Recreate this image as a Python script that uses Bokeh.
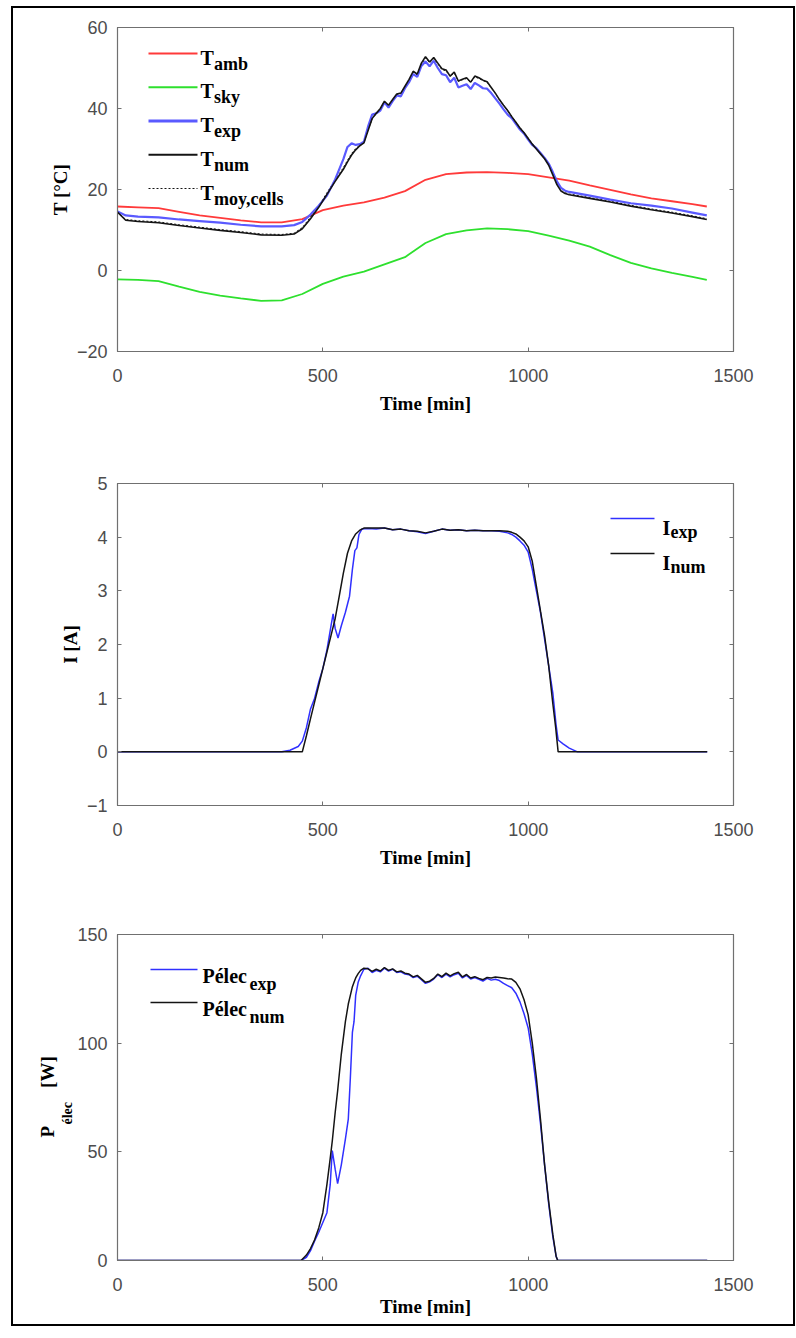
from bokeh.plotting import figure
from bokeh.layouts import column
from bokeh.models import FixedTicker, LinearAxis, Range1d, Label, Arrow, Title
from bokeh.embed import file_html
from bokeh.resources import INLINE

# ---------------- data ----------------
# Temperatures
t_amb = [0, 50, 100, 150, 200, 250, 300, 350, 400, 450, 500, 550, 600, 650, 700, 750,
         800, 850, 900, 950, 1000, 1050, 1100, 1150, 1200, 1250, 1300, 1350, 1400, 1435]
T_amb = [15.8, 15.6, 15.4, 14.5, 13.6, 13.0, 12.4, 11.9, 11.9, 12.7, 14.9, 16.0, 16.8, 18.0, 19.6, 22.4,
         23.8, 24.2, 24.3, 24.1, 23.8, 23.0, 22.2, 21.0, 19.9, 18.8, 17.8, 17.1, 16.4, 15.8]
T_sky = [-2.2, -2.3, -2.6, -4.0, -5.3, -6.2, -6.9, -7.5, -7.4, -5.8, -3.3, -1.5, -0.3, 1.5, 3.3, 6.8,
         9.0, 9.9, 10.4, 10.2, 9.7, 8.6, 7.4, 5.9, 3.8, 1.9, 0.5, -0.6, -1.6, -2.3]

t_T = [0, 20, 50, 100, 150, 200, 250, 300, 350, 400, 430, 450, 470, 490, 510, 530, 550,
       560, 570, 580, 590, 600, 610, 620, 630, 640, 650, 660, 670, 680, 690, 700, 710, 720, 730, 740,
       750, 760, 770, 780, 790, 800, 810, 820, 830, 840, 850, 860, 870, 880, 890, 900, 910, 920, 930,
       940, 950, 960, 970, 980, 990, 1000, 1010, 1020, 1030, 1040, 1050, 1060, 1070, 1080, 1090, 1100,
       1150, 1200, 1250, 1300, 1350, 1400, 1435]
T_exp = [14.6, 13.6, 13.3, 13.1, 12.6, 12.2, 11.8, 11.3, 10.9, 10.9, 11.2, 12.0, 13.8, 16.0, 18.5, 22.5, 27.5,
         30.5, 31.4, 31.0, 31.2, 31.8, 35.5, 38.5, 38.8, 39.5, 41.5, 40.2, 41.8, 43.2, 43.0, 45.0, 46.5, 48.5, 47.8, 50.5,
         51.6, 50.4, 51.8, 50.0, 48.5, 48.2, 46.5, 47.6, 45.2, 45.6, 46.0, 44.8, 46.3, 45.7, 45.0, 44.9, 43.8, 42.5, 41.2,
         39.8, 38.5, 37.6, 36.2, 34.8, 33.8, 32.3, 31.0, 30.2, 29.0, 27.8, 26.4, 24.3, 22.0, 20.4, 19.7, 19.4,
         18.5, 17.5, 16.6, 16.0, 15.3, 14.3, 13.6]
T_num = [14.4, 12.4, 12.1, 11.8, 11.1, 10.5, 9.9, 9.4, 8.8, 8.7, 9.0, 10.3, 12.8, 15.6, 18.8, 22.0, 25.0,
         26.8, 28.5, 29.8, 30.8, 31.5, 34.5, 37.5, 38.8, 40.0, 41.8, 40.8, 42.2, 43.6, 43.8, 45.5, 47.2, 49.2, 48.5, 51.2,
         52.8, 51.5, 52.6, 51.2, 49.8, 49.5, 48.0, 49.0, 46.8, 47.2, 47.6, 46.5, 48.0, 47.6, 47.0, 46.6, 45.2, 43.8, 42.2,
         40.8, 39.5, 38.0, 36.6, 35.2, 34.0, 32.6, 31.2, 30.0, 28.8, 27.6, 26.0, 23.6, 21.2, 19.6, 19.0, 18.7,
         17.8, 16.9, 15.9, 15.0, 14.2, 13.3, 12.6]
T_moy_cells = [14.5, 12.6, 12.3, 12.0, 11.3, 10.7, 10.1, 9.6, 9.0, 8.9, 9.2, 10.6, 13.2, 16.0, 19.2, 22.4, 25.4,
               27.2, 28.9, 30.1, 31.0, 31.8, 34.6, 37.4, 38.7, 39.9, 41.6, 40.8, 42.1, 43.4, 43.7, 45.3, 47.0, 48.9, 48.3, 50.9,
               52.5, 51.3, 52.3, 51.0, 49.6, 49.3, 47.9, 48.8, 46.7, 47.1, 47.4, 46.4, 47.8, 47.4, 46.9, 46.5, 45.1, 43.7, 42.2,
               40.8, 39.5, 38.1, 36.7, 35.3, 34.1, 32.7, 31.3, 30.1, 28.9, 27.7, 26.1, 23.8, 21.4, 19.8, 19.2, 18.9,
               18.0, 17.1, 16.1, 15.2, 14.4, 13.5, 12.8]

# Current
t_Iexp = [0, 400, 420, 440, 450, 460, 470, 480, 490, 500, 510, 520, 525, 530, 537, 545, 555, 565, 572, 578,
          583, 588, 595, 610, 630, 650, 670, 690, 710, 730, 750, 770, 790, 810, 830, 850, 870, 890, 910, 930,
          950, 960, 970, 980, 990, 1000, 1010, 1020, 1030, 1040, 1050, 1060, 1068, 1073, 1085, 1100, 1120, 1436]
I_exp = [0, 0, 0.03, 0.1, 0.2, 0.45, 0.8, 1.0, 1.3, 1.55, 1.9, 2.35, 2.57, 2.3, 2.12, 2.35, 2.6, 2.9, 3.4, 3.75,
         3.8, 4.05, 4.15, 4.16, 4.15, 4.17, 4.14, 4.15, 4.12, 4.10, 4.07, 4.11, 4.15, 4.13, 4.14, 4.12, 4.13, 4.12, 4.12, 4.11,
         4.08, 4.05, 4.0, 3.93, 3.85, 3.72, 3.4, 3.0, 2.6, 2.1, 1.6, 1.1, 0.5, 0.22, 0.15, 0.07, 0.0, 0.0]
t_Inum = [0, 450, 460, 470, 480, 490, 500, 510, 520, 530, 540, 550, 560, 570, 580, 590, 600, 620, 650, 670,
          690, 710, 730, 750, 770, 790, 810, 830, 850, 870, 890, 910, 930, 950, 960, 970, 980, 990, 1000, 1010,
          1020, 1030, 1040, 1050, 1060, 1067, 1073, 1436]
I_num = [0, 0, 0.3, 0.62, 0.93, 1.24, 1.55, 1.86, 2.17, 2.48, 2.9, 3.33, 3.7, 3.93, 4.06, 4.13, 4.17, 4.17, 4.17, 4.14,
         4.15, 4.12, 4.11, 4.08, 4.11, 4.15, 4.13, 4.14, 4.12, 4.13, 4.12, 4.12, 4.12, 4.11, 4.09, 4.06, 4.0, 3.93, 3.82, 3.55,
         3.09, 2.62, 2.16, 1.6, 0.9, 0.45, 0.0, 0.0]

# Electrical power
t_P = [0, 447, 460, 470, 480, 490, 500, 510, 518, 523, 530, 536, 545, 555, 562, 567, 572, 576, 580, 586,
       592, 600, 610, 620, 630, 640, 650, 660, 670, 680, 690, 700, 710, 720, 730, 740, 750, 760, 770, 780,
       790, 800, 810, 820, 830, 840, 850, 860, 870, 880, 890, 900, 910, 920, 930, 940, 950, 960, 970, 980,
       990, 1000, 1010, 1020, 1030, 1040, 1050, 1060, 1068, 1072, 1436]
P_exp = [0, 0, 1.5, 4.5, 9, 13, 17.5, 22, 35, 50.6, 42, 35.4, 44, 56, 65, 84, 105, 110, 122, 128,
         131, 134, 134.5, 132.5, 133.5, 132.8, 134.5, 133.2, 134, 132.5, 132.8, 131.8, 131.5, 130.2, 130.8, 129.2, 127.5, 128.2, 129.5, 131.5,
         130.2, 131.8, 130.5, 131.5, 132.2, 130.0, 131.2, 129.5, 130.2, 129.4, 128.6, 129.8, 129.0, 129.4, 128.8, 127.5, 126.5, 125.5, 123.0, 119.0,
         113.5, 107.0, 95.0, 80.0, 63.0, 44.0, 26.0, 11.0, 2.0, 0, 0]
P_num = [0, 0, 2.5, 5.5, 9.5, 15, 22, 35, 47, 55, 68, 78, 95, 110, 118, 122, 126, 128, 130, 132,
         133.5, 134.5, 134.2, 133.0, 134.0, 133.2, 134.8, 133.5, 134.2, 132.8, 133.2, 132.2, 131.8, 130.5, 131.2, 129.6, 128.0, 128.5, 129.8, 131.8,
         130.6, 132.2, 131.0, 132.0, 132.6, 130.5, 131.6, 130.0, 130.6, 129.8, 129.2, 130.2, 130.0, 130.4, 130.2, 130.0, 129.6, 129.5, 128.0, 125.0,
         120.0, 113.0, 100.0, 84.0, 65.0, 44.0, 27.0, 12.0, 2.0, 0, 0]

x_ticks = [0, 500, 1000, 1500]
T_ticks = [-20, 0, 20, 40, 60]
I_ticks = [-1, 0, 1, 2, 3, 4, 5]
P_ticks = [0, 50, 100, 150]

# ---------------- styling ----------------
SERIF = "Liberation Serif"
SANS = "Liberation Sans"
AXC = "#707070"
TICKC = "#4d4d4d"
RED = "#ff3a3a"
GREEN = "#2ee02e"
BLUE_T = "#5a5aff"
BLUE = "#3030ff"
BLACK = "#141414"
FW = 616
LEFT = 104


def make_fig(top, fh, bottom, yr, yticks, ylabel, xlab_standoff=8):
    p = figure(frame_width=FW, frame_height=fh, min_border_left=LEFT, min_border_right=60,
               min_border_top=top, min_border_bottom=bottom,
               x_range=Range1d(0, 1500), y_range=Range1d(*yr),
               output_backend="svg", toolbar_location=None)
    p.background_fill_color = "white"
    p.border_fill_color = "white"
    p.outline_line_color = AXC
    p.outline_line_width = 1.2
    p.xgrid.visible = False
    p.ygrid.visible = False
    p.xaxis.ticker = FixedTicker(ticks=x_ticks)
    p.yaxis.ticker = FixedTicker(ticks=yticks)
    for ax in p.xaxis + p.yaxis:
        ax.major_tick_in = 4
        ax.major_tick_out = 0
        ax.minor_tick_line_color = None
        ax.axis_line_color = AXC
        ax.major_tick_line_color = AXC
        ax.major_label_text_font = SANS
        ax.major_label_text_font_size = "18px"
        ax.major_label_text_color = TICKC
        ax.axis_label_text_font = SERIF
        ax.axis_label_text_font_style = "bold"
        ax.axis_label_text_font_size = "19px"
        ax.axis_label_text_color = "black"
    p.xaxis.major_label_standoff = 17
    p.xaxis.axis_label_standoff = xlab_standoff
    p.xaxis.axis_label = "Time [min]"
    p.yaxis.major_label_standoff = 10
    p.yaxis.axis_label_standoff = 3
    p.yaxis.axis_label = ylabel
    for loc, tk in (("above", x_ticks), ("right", yticks)):
        ax = LinearAxis(ticker=FixedTicker(ticks=tk), major_tick_in=4, major_tick_out=0,
                        minor_tick_line_color=None, axis_line_color=AXC,
                        major_tick_line_color=AXC, major_label_text_color=None,
                        major_label_standoff=0)
        p.add_layout(ax, loc)
    return p


def legend_entry(p, x0, x1, yline, xt, yb, main, sub, color, sub_dy, sub_x, dash="solid", lw=2.0,
                 fs="20px", sfs="18px"):
    p.add_layout(Arrow(start=None, end=None, x_start=x0, y_start=yline, x_end=x1, y_end=yline,
                       start_units="screen", end_units="screen", line_color=color,
                       line_width=lw, line_dash=dash))
    p.add_layout(Label(x=xt, y=yb, x_units="screen", y_units="screen", text=main,
                       text_font=SERIF, text_font_style="bold", text_font_size=fs,
                       text_align="left", text_baseline="alphabetic", text_color="black"))
    p.add_layout(Label(x=sub_x, y=yb - sub_dy, x_units="screen", y_units="screen", text=sub,
                       text_font=SERIF, text_font_style="bold", text_font_size=sfs,
                       text_align="left", text_baseline="alphabetic", text_color="black"))


FL = 117   # frame left (page px)

# ---------------- Plot 1: temperatures ----------------
p1 = make_fig(19, 324, 94, (-20, 60), T_ticks, "T [°C]")
p1.line(t_amb, T_amb, line_color=RED, line_width=1.8)
p1.line(t_amb, T_sky, line_color=GREEN, line_width=1.8)
p1.line(t_T, T_moy_cells, line_color=BLACK, line_width=1.0, line_dash="2 2")
p1.line(t_T, T_exp, line_color=BLUE_T, line_width=2.2)
p1.line(t_T, T_num, line_color=BLACK, line_width=1.6)

FB1 = 351  # frame bottom (page px)
entries1 = [("T", "amb", RED, "solid", 1.8), ("T", "sky", GREEN, "solid", 1.8),
            ("T", "exp", BLUE_T, "solid", 3.0), ("T", "num", BLACK, "solid", 1.8),
            ("T", "moy,cells", BLACK, "2 2", 1.0)]
for i, (m, s, c, d, lw) in enumerate(entries1):
    yb = 57 + 33.75 * i
    legend_entry(p1, 148 - FL, 197 - FL, FB1 - (yb - 4), 200 - FL, FB1 - yb, m, s, c,
                 6, 213.5 - FL, dash=d, lw=lw)

# ---------------- Plot 2: current ----------------
p2 = make_fig(38, 322, 88, (-1, 5), I_ticks, "I [A]")
p2.line(t_Iexp, I_exp, line_color=BLUE, line_width=1.5)
p2.line(t_Inum, I_num, line_color=BLACK, line_width=1.5)
FB2 = 805
entries2 = [("I", "exp", BLUE), ("I", "num", BLACK)]
for i, (m, s, c) in enumerate(entries2):
    yb = 527 + 35 * i
    legend_entry(p2, 610 - FL, 654 - FL, FB2 - (yb - 9), 662 - FL, FB2 - yb, m, s, c,
                 4, 670 - FL, lw=1.6)

# ---------------- Plot 3: electrical power ----------------
p3 = make_fig(41, 326, 64, (0, 150), P_ticks, None, xlab_standoff=2)
p3.yaxis.axis_label = None
p3.line(t_P, P_exp, line_color=BLUE, line_width=1.5)
p3.line(t_P, P_num, line_color=BLACK, line_width=1.5)
FB3 = 1260
entries3 = [("Pélec", "exp", BLUE), ("Pélec", "num", BLACK)]
for i, (m, s, c) in enumerate(entries3):
    yb = 975 + 33 * i
    legend_entry(p3, 150 - FL, 197 - FL, FB3 - (yb - 6), 202 - FL, FB3 - yb, m, s, c,
                 8, 249 - FL, lw=1.6)

# y-axis title  P_élec [W]  (subscript column next to the axis, main text further out)
p3.add_layout(Title(text="élec", align="left", offset=FB3 - 1124, standoff=0,
                    text_font=SERIF, text_font_style="bold", text_font_size="14px",
                    text_color="black"), "left")
p3.add_layout(Title(text="P" + "\u00a0" * 8 + "[W]", align="left", offset=FB3 - 1137, standoff=0,
                    text_font=SERIF, text_font_style="bold", text_font_size="19px",
                    text_color="black"), "left")

layout = column(p1, p2, p3, spacing=0, margin=(6, 0, 0, 11),
                styles={"border": "2px solid black"})
open("out.html", "w").write(file_html(layout, INLINE))
